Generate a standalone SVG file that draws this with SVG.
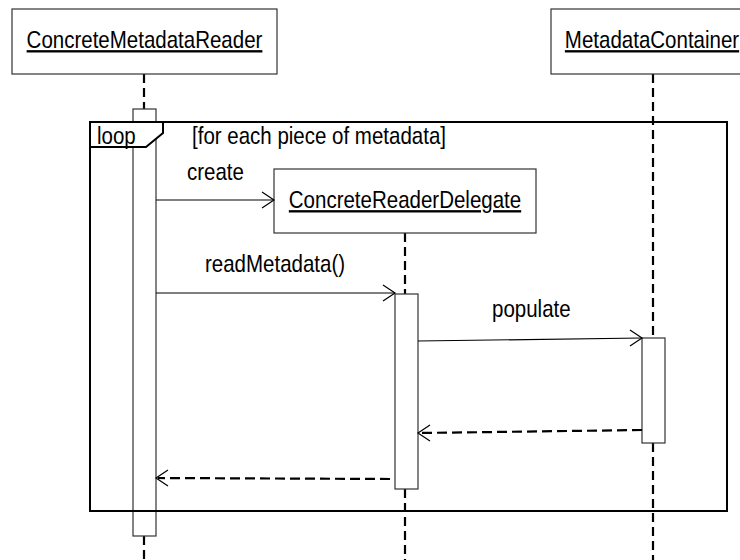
<svg xmlns="http://www.w3.org/2000/svg" width="740" height="560" viewBox="0 0 740 560">
<style>
text{font-family:"Liberation Sans",Arial,sans-serif;font-size:20.5px;fill:#000}
.obj{fill:#fff;stroke:#333;stroke-width:1.2}
.u{text-decoration:underline}
.life{stroke:#000;stroke-width:2.2;stroke-dasharray:9 5;fill:none}
.act{fill:#fff;stroke:#333;stroke-width:1.2}
.msg{stroke:#000;stroke-width:1.2;fill:none}
.ret{stroke:#000;stroke-width:2.2;stroke-dasharray:10 5;fill:none}
.head{stroke:#000;stroke-width:1.2;fill:none}
.frame{fill:none;stroke:#000;stroke-width:2}
</style>
<rect width="740" height="560" fill="#fff"/>
<g id="lifelines">
<line class="life" x1="144" y1="74" x2="144" y2="109"/>
<line class="life" x1="144" y1="536" x2="144" y2="560"/>
<line class="life" x1="405" y1="233" x2="405" y2="294"/>
<line class="life" x1="405" y1="489" x2="405" y2="560"/>
<line class="life" x1="653" y1="74" x2="653" y2="338"/>
<line class="life" x1="653" y1="443" x2="653" y2="560"/>
</g>
<g id="reader">
<rect class="obj" x="12" y="9" width="265" height="65"/>
<text class="u" transform="translate(144.5,48) scale(1,1.15)" text-anchor="middle">ConcreteMetadataReader</text>
<rect class="act" x="133" y="109" width="23" height="427"/>
</g>
<g id="container">
<rect class="obj" x="551" y="9" width="205" height="65"/>
<text class="u" transform="translate(652,48) scale(1,1.15)" text-anchor="middle">MetadataContainer</text>
<rect class="act" x="642" y="338" width="23" height="105"/>
</g>
<g id="loop">
<rect class="frame" x="90" y="122" width="637" height="389"/>
<path d="M90,122 L163,122 L163,133 L146,147 L90,147 Z" fill="#fff" stroke="#000" stroke-width="2"/>
<text transform="translate(97,144) scale(1,1.15)">loop</text>
<text transform="translate(192,144) scale(1,1.15)">[for each piece of metadata]</text>
</g>
<g id="delegate">
<rect class="obj" x="274" y="169" width="262" height="64"/>
<text class="u" transform="translate(405,208) scale(1,1.15)" text-anchor="middle">ConcreteReaderDelegate</text>
<rect class="act" x="395" y="294" width="23" height="195"/>
</g>
<g id="connectors">
<line class="msg" x1="156" y1="200" x2="274" y2="200"/>
<path class="head" d="M262,192 L274,200 L262,208"/>
<text transform="translate(187,180) scale(1,1.15)">create</text>
<line class="msg" x1="156" y1="293" x2="395" y2="293"/>
<path class="head" d="M383,285 L395,293 L383,301"/>
<text transform="translate(205,272) scale(1,1.15)">readMetadata()</text>
<line class="msg" x1="418" y1="341" x2="642" y2="338"/>
<path class="head" d="M630,330 L642,338 L630,346"/>
<text transform="translate(492,317) scale(1,1.15)">populate</text>
<line class="ret" x1="642" y1="430" x2="420" y2="433"/>
<path class="head" d="M430,425 L418,433 L430,441"/>
<line class="ret" x1="390" y1="479" x2="158" y2="478"/>
<path class="head" d="M168,470 L156,478 L168,486"/>
</g>
</svg>
